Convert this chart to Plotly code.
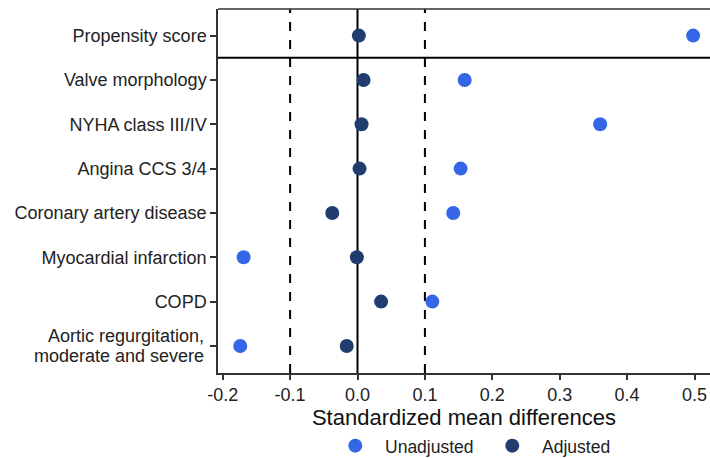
import plotly.graph_objects as go

categories = ["Propensity score", "Valve morphology", "NYHA class III/IV", "Angina CCS 3/4",
              "Coronary artery disease", "Myocardial infarction", "COPD",
              "Aortic regurgitation,<br>moderate and severe"]
unadjusted = [0.498, 0.159, 0.360, 0.153, 0.142, -0.169, 0.111, -0.174]
adjusted = [0.002, 0.009, 0.006, 0.003, -0.0375, -0.001, 0.035, -0.016]
series_names = ["Unadjusted", "Adjusted"]
x_ticks = [-0.2, -0.1, 0.0, 0.1, 0.2, 0.3, 0.4, 0.5]
x_tick_labels = ["-0.2", "-0.1", "0.0", "0.1", "0.2", "0.3", "0.4", "0.5"]

n = len(categories)
ypos = [n - i for i in range(n)]

C_UN = "#3466E6"
C_AD = "#213D70"
FONT = "Liberation Sans, Arial, sans-serif"
TXT = "#222222"
PAD = "\u00a0\u00a0"

fig = go.Figure()
fig.add_trace(go.Scatter(x=unadjusted, y=ypos, mode="markers", name=PAD + series_names[0],
                         marker=dict(color=C_UN, size=14, line=dict(width=0))))
fig.add_trace(go.Scatter(x=adjusted, y=ypos, mode="markers", name=PAD + series_names[1],
                         marker=dict(color=C_AD, size=14, line=dict(width=0))))

# reference lines
for xv, dash in [(-0.1, "dash"), (0.1, "dash"), (0.0, "solid")]:
    fig.add_shape(type="line", xref="x", yref="paper", x0=xv, x1=xv, y0=0, y1=1,
                  line=dict(color="black", width=2, dash=dash), layer="below")
# separator below propensity score
fig.add_shape(type="line", xref="paper", yref="y", x0=0, x1=1, y0=n - 0.5, y1=n - 0.5,
              line=dict(color="black", width=2), layer="below")
# top frame
fig.add_shape(type="line", xref="paper", yref="paper", x0=0, x1=1, y0=1, y1=1,
              line=dict(color="#333333", width=1.5))

# tick labels; multi-line label drawn as annotations for tighter line spacing
ticktext = []
for i, c in enumerate(categories):
    if "<br>" in c:
        ticktext.append("")
        lines = c.split("<br>")
        k = len(lines)
        for j, ln in enumerate(lines):
            fig.add_annotation(text=ln, xref="paper", yref="y", x=0, y=ypos[i],
                               xanchor="right", yanchor="middle", showarrow=False,
                               xshift=-12, yshift=(k - 1) / 2 * 19.5 - j * 19.5,
                               font=dict(size=18, color=TXT, family=FONT))
    else:
        ticktext.append(c)

fig.update_layout(
    width=710, height=458,
    margin=dict(l=218, r=0, t=9, b=85, autoexpand=False),
    plot_bgcolor="white", paper_bgcolor="white",
    font=dict(family=FONT, size=18, color=TXT),
    showlegend=True,
    legend=dict(orientation="h", x=0.2384, xanchor="left", y=-0.200, yanchor="middle",
                font=dict(size=17.5, color=TXT), entrywidth=112, entrywidthmode="pixels",
                tracegroupgap=0),
    xaxis=dict(range=[-0.207, 0.523], tickvals=x_ticks, ticktext=x_tick_labels,
               showgrid=False, zeroline=False, showline=True, linecolor="#333333", linewidth=1.5,
               ticks="outside", ticklen=5, tickwidth=1.5, tickcolor="#333333",
               tickfont=dict(size=18, color=TXT), automargin=False,
               title=dict(text="Standardized mean differences", font=dict(size=22, color="#111111"), standoff=4)),
    yaxis=dict(range=[0.39, 8.6], tickvals=ypos, ticktext=ticktext,
               showgrid=False, zeroline=False, showline=True, linecolor="#333333", linewidth=1.5,
               ticks="outside", ticklen=6, tickwidth=1.5, tickcolor="#333333",
               tickfont=dict(size=18, color=TXT), automargin=False),
)

fig.write_html("out.html")
